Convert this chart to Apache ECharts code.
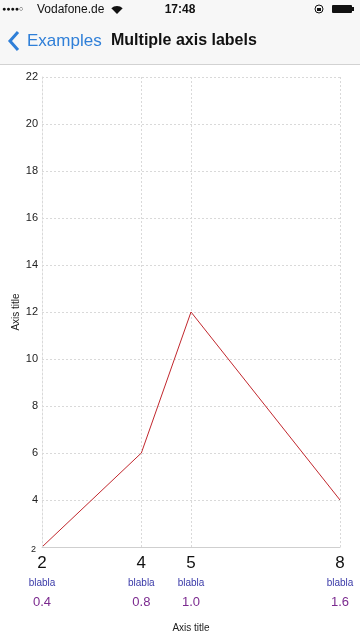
<!DOCTYPE html>
<html>
<head>
<meta charset="utf-8">
<style>
html,body{margin:0;padding:0;background:#fff;}
#chart{width:360px;height:640px;}
</style>
<script src="https://cdn.jsdelivr.net/npm/echarts@6/dist/echarts.min.js"></script>
</head>
<body>
<div id="chart"></div>
<script>
var xValues = [2, 4, 5, 8];
var yValues = [2, 6, 12, 4];
var subLabels = ['blabla', 'blabla', 'blabla', 'blabla'];
var ratioLabels = ['0.4', '0.8', '1.0', '1.6'];
var axisTitleX = 'Axis title';
var axisTitleY = 'Axis title';

var chart = echarts.init(document.getElementById('chart'));
var font = 'Helvetica, Arial, "Liberation Sans", sans-serif';
var gridColor = '#d9d9d9';

var option = {
  animation: false,
  backgroundColor: '#fff',
  textStyle: { fontFamily: font },
  grid: { left: 42, right: 20, top: 77, bottom: 93, containLabel: false, outerBoundsMode: 'none' },
  xAxis: {
    type: 'value', min: 2, max: 8,
    name: axisTitleX, nameLocation: 'middle', nameGap: 76, nameMoveOverlap: false,
    nameTextStyle: { fontSize: 10, color: '#222', fontFamily: font },
    axisLine: { show: true, lineStyle: { color: '#cfcfcf', width: 1 } },
    axisTick: { show: false },
    splitLine: { show: false },
    axisLabel: {
      customValues: xValues,
      margin: 6,
      formatter: function (v) {
        var i = xValues.indexOf(v);
        if (i < 0) return '';
        return '{a|' + v + '}\n{b|' + subLabels[i] + '}\n{c|' + ratioLabels[i] + '}';
      },
      rich: {
        a: { fontSize: 17, color: '#111', lineHeight: 20, fontFamily: font },
        b: { fontSize: 10, color: '#3a3aa8', lineHeight: 20, fontFamily: font },
        c: { fontSize: 13, color: '#7b2a8f', lineHeight: 19, fontFamily: font }
      }
    }
  },
  yAxis: {
    type: 'value', min: 2, max: 22, interval: 2,
    name: axisTitleY, nameLocation: 'middle', nameGap: 21, nameRotate: 90, nameMoveOverlap: false,
    nameTextStyle: { fontSize: 10, color: '#222', fontFamily: font },
    axisLine: { show: true, lineStyle: { color: gridColor, type: [2, 2], width: 1 } },
    axisTick: { show: false },
    splitLine: { show: true, lineStyle: { color: gridColor, type: [2, 2], width: 1 } },
    axisLabel: {
      margin: 4, fontSize: 11, color: '#222', fontFamily: font,
      formatter: function (v) { return v === 2 ? '{s|2}' : String(v); },
      rich: { s: { fontSize: 9, color: '#222', padding: [6, 2, 0, 0], fontFamily: font } }
    }
  },
  series: [{
    type: 'line',
    data: xValues.map(function (x, i) { return [x, yValues[i]]; }),
    symbol: 'none',
    lineStyle: { color: '#c1272d', width: 1 },
    itemStyle: { color: '#c1272d' },
    markLine: {
      silent: true, symbol: 'none', label: { show: false },
      lineStyle: { color: gridColor, type: [2, 2], width: 1 },
      data: xValues.map(function (x) { return { xAxis: x }; })
    }
  }],
  graphic: [
    { type: 'rect', shape: { x: 0, y: 0, width: 360, height: 64 }, style: { fill: '#f7f7f7' }, z: 10 },
    { type: 'rect', shape: { x: 0, y: 64, width: 360, height: 1 }, style: { fill: '#d2d2d2' }, z: 10 },
    { type: 'text', x: 2, y: 9, style: { text: '●●●●○', font: '7px ' + font, fill: '#111', verticalAlign: 'middle' }, z: 11 },
    { type: 'text', x: 37, y: 10, style: { text: 'Vodafone.de', font: '12px ' + font, fill: '#111', verticalAlign: 'middle' }, z: 11 },
    { type: 'sector', shape: { cx: 117, cy: 14, r: 8, r0: 0, startAngle: -Math.PI * 0.75, endAngle: -Math.PI * 0.25 }, style: { fill: '#111' }, z: 11 },
    { type: 'text', x: 180, y: 10, style: { text: '17:48', font: 'bold 12px ' + font, fill: '#111', align: 'center', verticalAlign: 'middle' }, z: 11 },
    { type: 'circle', shape: { cx: 319, cy: 9, r: 4 }, style: { fill: 'none', stroke: '#111', lineWidth: 1 }, z: 11 },
    { type: 'rect', shape: { x: 317, y: 8, width: 4, height: 3 }, style: { fill: '#111' }, z: 11 },
    { type: 'rect', shape: { x: 332, y: 5, width: 20, height: 8, r: 1 }, style: { fill: '#111' }, z: 11 },
    { type: 'rect', shape: { x: 352, y: 7, width: 2, height: 4 }, style: { fill: '#111' }, z: 11 },
    { type: 'polyline', shape: { points: [[18, 32], [10, 41], [18, 50]] }, style: { stroke: '#2f7fd8', lineWidth: 3, fill: 'none' }, z: 11 },
    { type: 'text', x: 27, y: 41, style: { text: 'Examples', font: '17px ' + font, fill: '#2f7fd8', verticalAlign: 'middle' }, z: 11 },
    { type: 'text', x: 111, y: 41, style: { text: 'Multiple axis labels', font: 'bold 16px ' + font, fill: '#111', verticalAlign: 'middle' }, z: 11 }
  ]
};
chart.setOption(option);
</script>
</body>
</html>
